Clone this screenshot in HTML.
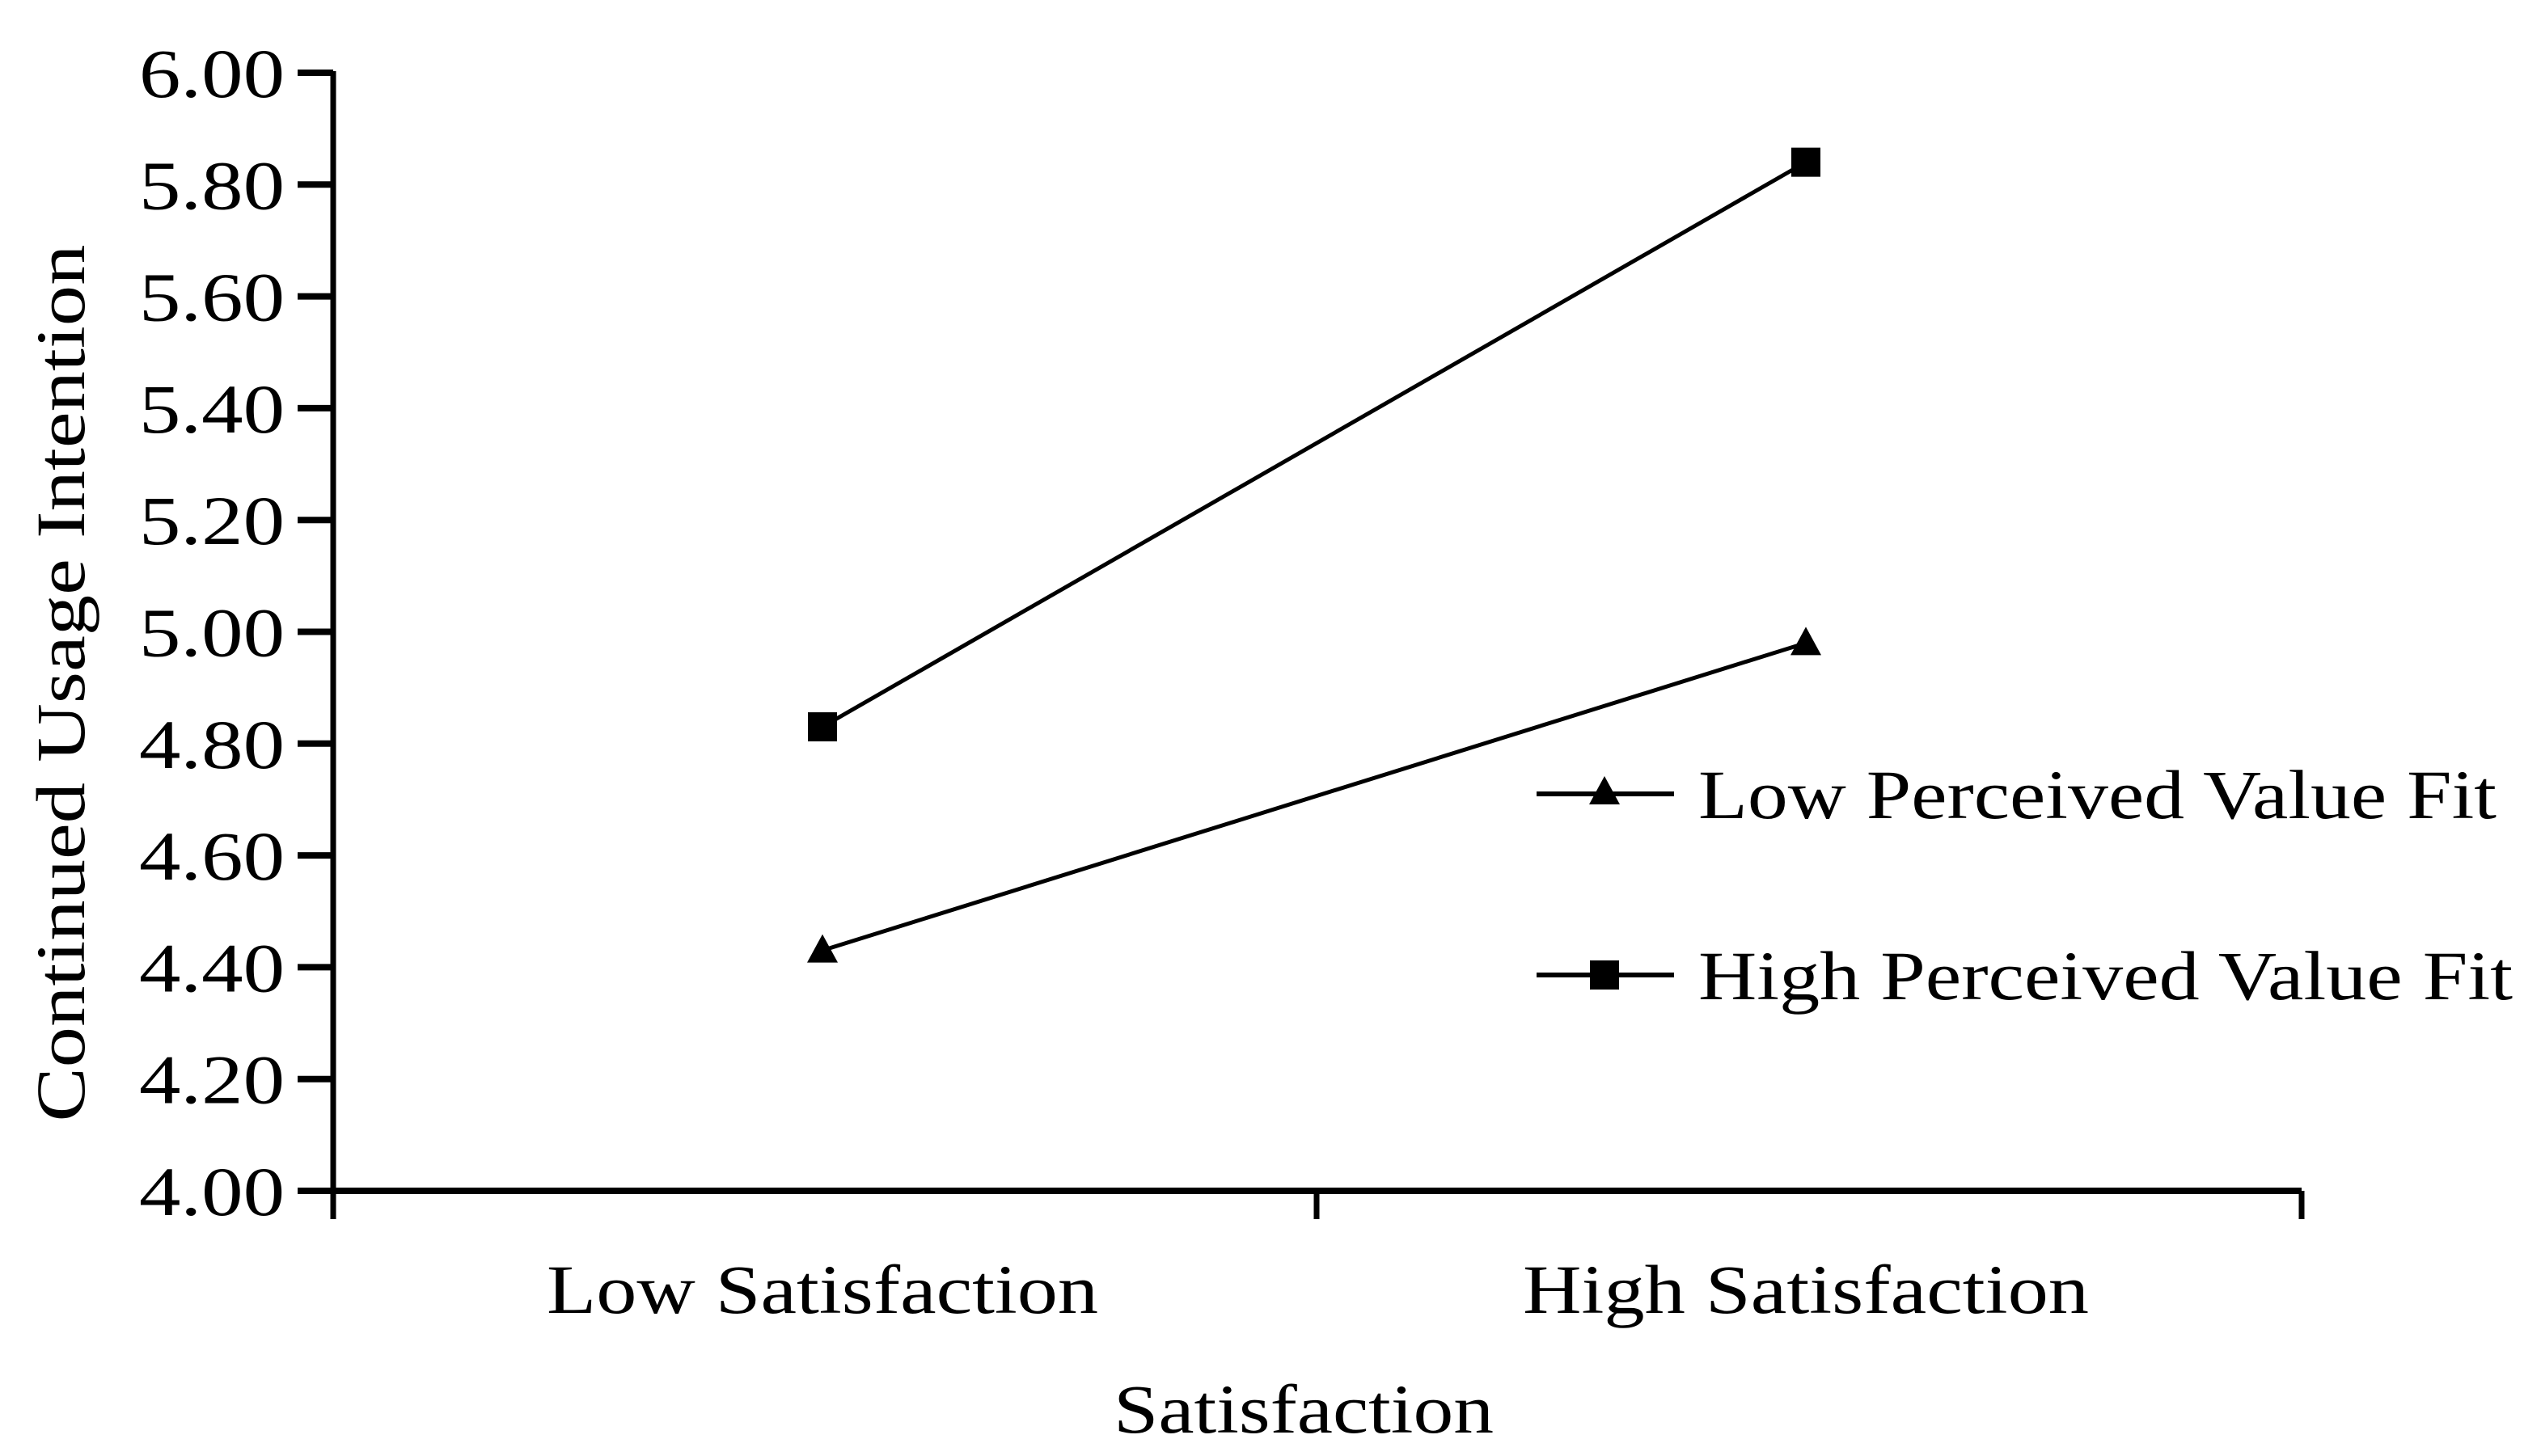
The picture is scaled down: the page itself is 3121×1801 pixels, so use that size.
<!DOCTYPE html>
<html><head><meta charset="utf-8"><style>
html,body{margin:0;padding:0;background:#fff;}
svg{display:block;font-family:"Liberation Serif",serif;}
</style></head><body>
<svg id="chart" width="3121" height="1801" viewBox="0 0 3121 1801" xmlns="http://www.w3.org/2000/svg">
<g id="axes"></g><g id="series"></g><g id="legend"></g>
</svg>
<script>
const categories = ["Low Satisfaction", "High Satisfaction"];
const lowFit = [4.43, 4.98];
const highFit = [4.83, 5.84];
const yTicks = [4.00, 4.20, 4.40, 4.60, 4.80, 5.00, 5.20, 5.40, 5.60, 5.80, 6.00];
const seriesNames = ["Low Perceived Value Fit", "High Perceived Value Fit"];

const NS = "http://www.w3.org/2000/svg";
const X0 = 412, X1 = 2846, Y0 = 1473, Y1 = 90;
const yMin = 4, yMax = 6;
function yScale(v){ return Y0 - (v - yMin) / (yMax - yMin) * (Y0 - Y1); }
function xScale(i){ return 1017 + i * (2233 - 1017); }
function mk(tag, attrs, parent){ const e = document.createElementNS(NS, tag); for (const k in attrs) e.setAttribute(k, attrs[k]); parent.appendChild(e); return e; }
const axes = document.getElementById('axes'), series = document.getElementById('series'), legend = document.getElementById('legend');

let e;
e = mk('line', {x1:X0, y1:Y1-2, x2:X0, y2:1508, stroke:'#000', 'stroke-width':7}, axes);


e = mk('line', {x1:X0-4, y1:Y0, x2:X1, y2:Y0, stroke:'#000', 'stroke-width':8}, axes);


[1628, X1].forEach((x, i) => {
  const t = mk('line', {x1:x, y1:Y0, x2:x, y2:1508, stroke:'#000', 'stroke-width':7}, axes);
  
  
});
yTicks.forEach(v => {
  const y = yScale(v);
  const t = mk('line', {x1:368, y1:y, x2:X0, y2:y, stroke:'#000', 'stroke-width':8}, axes);
  
  
  const l = mk('text', {x:352, y:y+30, 'text-anchor':'end', 'font-size':86, textLength:180, lengthAdjust:'spacingAndGlyphs'}, axes);
  l.textContent = v.toFixed(2);
  
  
});
categories.forEach((c, i) => {
  const l = mk('text', {x:xScale(i), y:1624, 'text-anchor':'middle', 'font-size':86, textLength:i?700:682, lengthAdjust:'spacingAndGlyphs'}, axes);
  l.textContent = c;
  
  
});
e = mk('text', {x:1612, y:1772, 'text-anchor':'middle', 'font-size':86, textLength:470, lengthAdjust:'spacingAndGlyphs'}, axes);
e.textContent = 'Satisfaction';


e = mk('text', {x:0, y:0, 'text-anchor':'middle', 'font-size':86, textLength:1085, lengthAdjust:'spacingAndGlyphs', transform:'translate(104,845) rotate(-90)'}, axes);
e.textContent = 'Continued Usage Intention';



function tri(x, y, s){ return `${x},${y-s} ${x+s*0.95},${y+s*0.75} ${x-s*0.95},${y+s*0.75}`; }
function drawSeries(vals, kind, name){
  const pts = vals.map((v,i)=>xScale(i)+','+yScale(v)).join(' ');
  const pl = mk('polyline', {points:pts, fill:'none', stroke:'#000', 'stroke-width':5}, series);
  
  
  vals.forEach((v,i) => {
    const x = xScale(i), y = yScale(v);
    let m;
    if (kind === 'sq') m = mk('rect', {x:x-18, y:y-18, width:36, height:36, fill:'#000'}, series);
    else m = mk('polygon', {points:tri(x, y, 20), fill:'#000'}, series);
    
    
  });
}
drawSeries(highFit, 'sq', 'high-fit');
drawSeries(lowFit, 'tri', 'low-fit');

seriesNames.forEach((n, i) => {
  const y = i ? 1206 : 982;
  const g = mk('g', {}, legend);
  
  
  mk('line', {x1:1900, y1:y, x2:2070, y2:y, stroke:'#000', 'stroke-width':6}, g);
  if (i) mk('rect', {x:1966, y:y-18, width:36, height:36, fill:'#000'}, g);
  else mk('polygon', {points:tri(1984, y-2, 20), fill:'#000'}, g);
  const t = mk('text', {x:2100, y:y+30, 'font-size':86, textLength:i?1007:987, lengthAdjust:'spacingAndGlyphs'}, g);
  t.textContent = n;
});
</script>
</body></html>
